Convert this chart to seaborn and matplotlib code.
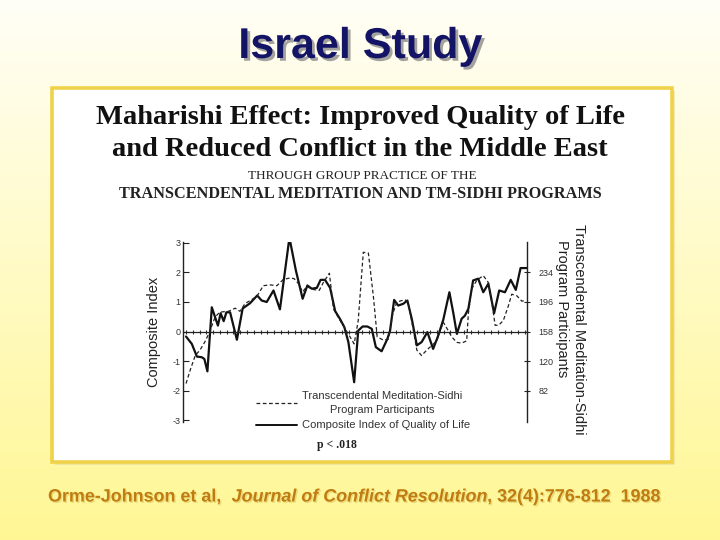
import numpy as np
import pandas as pd
import seaborn as sns
import matplotlib
matplotlib.use("Agg")
import matplotlib.pyplot as plt
import matplotlib.patheffects as pe
from matplotlib.patches import Rectangle
from matplotlib.lines import Line2D
from matplotlib.ticker import MultipleLocator

# ---------------- data ----------------
# time position (0..100 across the study period)
qol_t = [0, 1.7, 3.2, 4.6, 5.4, 6.3, 7.6, 9.4, 10.2, 11.1, 11.9, 13, 15, 16.7, 18.9,
         21, 22.3, 23.8, 25.8, 27.7, 30.5, 32.4, 34.4, 35.8, 37.1, 38.6, 39.7, 41,
         42.5, 44, 45.4, 46.7, 47.9, 49.6, 50.8, 52.1, 53.5, 54.8, 56, 57.7, 59.4,
         60.2, 61.4, 62.6, 64.1, 65.3, 66.6, 68.1, 69.5, 71.2, 72.9, 74.4, 75.9,
         77.7, 78.9, 79.9, 81.3, 82.3, 83.3, 84.7, 86.2, 87.7, 89.2, 90.9, 92.4,
         94.1, 95.8, 97.3, 98.7, 100.6]
# composite index of quality of life
qol_index = [-0.17, -0.42, -0.85, -0.87, -0.93, -1.35, 0.82, 0.2, 0.62, 0.35, 0.65,
             0.65, -0.28, 0.78, 0.96, 1.22, 1.05, 1.0, 1.39, 0.75, 3.18, 2.07, 1.11,
             1.56, 1.45, 1.48, 1.75, 1.75, 1.48, 0.69, 0.43, 0.15, -0.36, -1.72, 0.03,
             0.17, 0.17, 0.09, -0.53, -0.67, -0.25, 0.03, 1.07, 0.88, 0.94, 1.05, 0.43,
             -0.47, -0.36, -0.02, -0.59, -0.14, 0.4, 1.33, 0.6, -0.08, 0.43, 0.54, 0.77,
             1.73, 1.79, 1.33, 1.62, 0.62, 1.39, 1.33, 1.75, 1.41, 2.15, 2.15]

tm_t = [0, 1.2, 2.7, 4.1, 5.6, 6.9, 8.6, 10, 12.5, 14.5, 15.9, 17.4, 19.4, 21, 22.8,
        24.8, 26.8, 28.7, 30.7, 31.9, 33.1, 34.4, 35.6, 37.6, 39.3, 40.5, 42.3, 43.5,
        45.2, 46.6, 48.4, 49.6, 50.8, 52.3, 53.8, 55.3, 56.4, 58.2, 59.7, 61, 62.2,
        64.6, 65.6, 67.1, 68.1, 69.5, 71, 72.5, 74, 75.9, 77.1, 78.4, 79.9, 81.3,
        82.8, 83.3, 84.3, 85.8, 87.7, 89.2, 90.2, 91.2, 92.2, 93.6, 95.1, 96.1, 97.6,
        99.1, 100]
# number of TM-Sidhi program participants
tm_participants = [91, 108, 127, 134, 145, 157, 177, 183, 184, 188, 184, 194, 199,
                   204, 217, 218, 217, 225, 227, 226, 220, 209, 216, 212, 211, 221,
                   233, 187, 174, 164, 151, 142, 172, 260, 259, 202, 151, 147, 148,
                   181, 196, 199, 194, 159, 134, 127, 134, 140, 146, 170, 161, 151,
                   144, 143, 146, 181, 213, 224, 230, 221, 196, 166, 166, 172, 191,
                   206, 204, 197, 198]

left_ticks = [-3, -2, -1, 0, 1, 2, 3]
right_ticks = [82, 120, 158, 196, 234]

qol_df = pd.DataFrame({"t": qol_t, "value": qol_index})
tm_df = pd.DataFrame({"t": tm_t, "value": tm_participants})

# ---------------- figure ----------------
sns.set_theme(style="white")
plt.rcParams["font.family"] = ["Liberation Sans", "DejaVu Sans"]

fig = plt.figure(figsize=(7.2, 5.4), dpi=100)
W, H = 720.0, 540.0

# background gradient (cream -> yellow)
bg = fig.add_axes([0, 0, 1, 1], zorder=-10)
grad = np.linspace(0, 1, 256).reshape(-1, 1)
c_top = np.array([1.0, 0.998, 0.965])
c_bot = np.array([1.0, 0.968, 0.58])
img = c_top[None, None, :] * (1 - grad[:, :, None]) + c_bot[None, None, :] * grad[:, :, None]
bg.imshow(img, aspect="auto", extent=[0, 1, 0, 1], origin="upper")
bg.set_xlim(0, 1)
bg.set_ylim(0, 1)
bg.axis("off")

# white panel with yellow border
px0, py0, px1, py1 = 52, 88, 672, 462
bg.add_patch(Rectangle((px0 / W + 0.004, 1 - py1 / H - 0.006), (px1 - px0) / W, (py1 - py0) / H,
                       facecolor="#e8dca0", edgecolor="none", alpha=0.6, zorder=1))
bg.add_patch(Rectangle((px0 / W, 1 - py1 / H), (px1 - px0) / W, (py1 - py0) / H,
                       facecolor="white", edgecolor="#f0d24a", linewidth=2.6, zorder=2))

# slide title
fig.text(0.5, 0.913, "Israel Study", ha="center", va="center", fontsize=31,
         fontweight="bold", color="#141466",
         family=["Liberation Sans Narrow", "Liberation Sans", "DejaVu Sans"],
         path_effects=[pe.withSimplePatchShadow(offset=(2, -2), shadow_rgbFace="#8c8c8c", alpha=0.8)])

# chart titles (serif, like the scanned figure)
serif = ["Liberation Serif", "DejaVu Serif"]
fig.text(0.5, 0.783, "Maharishi Effect: Improved Quality of Life", ha="center", va="center",
         fontsize=20.5, fontweight="bold", family=serif, color="#111111")
fig.text(0.5, 0.724, "and Reduced Conflict in the Middle East", ha="center", va="center",
         fontsize=20.5, fontweight="bold", family=serif, color="#111111")
fig.text(0.503, 0.674, "THROUGH GROUP PRACTICE OF THE", ha="center", va="center",
         fontsize=9.5, family=serif, color="#222222")
fig.text(0.5, 0.641, "TRANSCENDENTAL MEDITATION AND TM-SIDHI PROGRAMS", ha="center", va="center",
         fontsize=11.7, fontweight="bold", family=serif, color="#222222")

# ---------------- the chart ----------------
ax = fig.add_axes([183 / W, (H - 421.5) / H, 344 / W, 180 / H])
ax.set_facecolor("none")
sns.lineplot(data=qol_df, x="t", y="value", ax=ax, color="#111111", linewidth=1.6,
             estimator=None, sort=False)
ax.set_xlim(-0.9, 100.6)
ax.set_ylim(-3.05, 3.05)
ax.set_yticks(left_ticks)
ax.set_yticklabels([str(v) for v in left_ticks])
ax.set_xlabel("")
ax.set_ylabel("Composite Index", fontsize=10.5, color="#222222", labelpad=8)

for s in ["top", "right"]:
    ax.spines[s].set_visible(False)
ax.spines["left"].set_color("#222222")
ax.spines["left"].set_linewidth(1.0)
ax.spines["left"].set_bounds(-3.05, 3.05)
# zero line with small tick marks
ax.spines["bottom"].set_position(("data", 0))
ax.spines["bottom"].set_color("#222222")
ax.spines["bottom"].set_linewidth(0.9)
ax.xaxis.set_major_locator(MultipleLocator(2))
ax.tick_params(axis="x", which="both", direction="inout", length=3, width=0.8,
               labelbottom=False, bottom=True, color="#333333")
ax.tick_params(axis="y", direction="in", length=4, width=0.8, labelsize=6.5,
               labelcolor="#333333", color="#222222", pad=2, left=True)

ax2 = ax.twinx()
sns.lineplot(data=tm_df, x="t", y="value", ax=ax2, color="#222222", linewidth=0.9,
             linestyle=(0, (3, 2)), estimator=None, sort=False)
ax2.set_ylim(158 - 38 * 3.05, 158 + 38 * 3.05)
ax2.set_yticks(right_ticks)
ax2.set_yticklabels([str(v) for v in right_ticks])
ax2.set_xlabel("")
ax2.set_ylabel("")
for s in ["top", "left", "bottom"]:
    ax2.spines[s].set_visible(False)
ax2.spines["right"].set_color("#222222")
ax2.spines["right"].set_linewidth(1.0)
ax2.tick_params(axis="y", direction="inout", length=5, width=0.8, labelsize=6.5,
                labelcolor="#333333", color="#222222", pad=6, right=True)
ax2.set_xlim(-0.9, 100.6)

# right axis title (two lines, as in the figure)
fig.text(579 / W, 1 - 224 / H, "Transcendental Meditation-Sidhi", rotation=270,
         ha="center", va="top", fontsize=10.5, color="#222222")
fig.text(562 / W, 1 - 240 / H, "Program Participants", rotation=270,
         ha="center", va="top", fontsize=10.5, color="#222222")

# legend
handles = [Line2D([], [], color="#222222", linewidth=0.9, linestyle=(0, (3, 2))),
           Line2D([], [], color="#111111", linewidth=1.4)]
labels = ["Transcendental Meditation-Sidhi\nProgram Participants",
          "Composite Index of Quality of Life"]
leg = fig.legend(handles, labels, loc="upper left", bbox_to_anchor=(256 / W, 1 - 391 / H),
                 frameon=False, fontsize=8, handlelength=3.7, handletextpad=0.45,
                 labelspacing=0.45, borderpad=0, borderaxespad=0)
for txt in leg.get_texts():
    txt.set_color("#333333")
    txt.set_multialignment("center")
    txt.set_linespacing(1.55)

fig.text(0.468, 0.176, "p < .018", ha="center", va="center", fontsize=8.5,
         fontweight="bold", family=serif, color="#222222")

# citation with mixed styles
cite_color = "#c07c10"
shadow = [pe.withSimplePatchShadow(offset=(1, -1), shadow_rgbFace="#e0d070", alpha=0.7)]
parts = [("Orme-Johnson et al,  ", "normal"),
         ("Journal of Conflict Resolution", "italic"),
         (", 32(4):776-812  1988", "normal")]
fig.canvas.draw()
renderer = fig.canvas.get_renderer()
x = 48 / W
for s, style in parts:
    t = fig.text(x, 0.0796, s, ha="left", va="center", fontsize=12.9, fontweight="bold",
                 fontstyle=style, color=cite_color, path_effects=shadow)
    bb = t.get_window_extent(renderer=renderer)
    x += bb.width / fig.bbox.width

fig.savefig("out.png", dpi=100)
